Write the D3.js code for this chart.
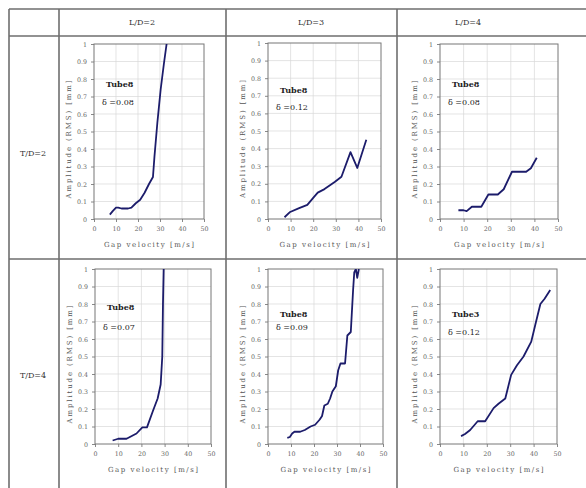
<!DOCTYPE html>
<html>
<head>
<meta charset="utf-8">
<script src="https://cdn.jsdelivr.net/npm/d3@7/dist/d3.min.js"></script>
<style>
  body { margin: 0; background: #fff; }
  svg text { font-family: "DejaVu Serif", "Liberation Serif", serif; }
</style>
</head>
<body>
<script>
// table labels
var colLabels = ["L/D=2", "L/D=3", "L/D=4"];
var rowLabels = ["T/D=2", "T/D=4"];

// axis ticks
var xTicks = [0, 10, 20, 30, 40, 50];
var yTicks = [0, 0.1, 0.2, 0.3, 0.4, 0.5, 0.6, 0.7, 0.8, 0.9, 1];
var xTitle = "Gap velocity [m/s]";
var yTitle = "Amplitude (RMS) [mm]";

// chart annotations (row-major: T/D=2 L/D=2,3,4 then T/D=4 L/D=2,3,4)
var tubeLabels = ["Tube8", "Tube8", "Tube8", "Tube8", "Tube8", "Tube3"];
var deltaLabels = ["\u03b4 =0.08", "\u03b4 =0.12", "\u03b4 =0.08", "\u03b4 =0.07", "\u03b4 =0.09", "\u03b4 =0.12"];

// series: [gap velocity m/s, amplitude mm]
var td2ld2 = [[7.2, 0.025], [8.5, 0.045], [10, 0.065], [11, 0.065], [12.5, 0.06], [15.5, 0.06], [17, 0.065],
              [19, 0.09], [21, 0.11], [23, 0.15], [25, 0.2], [26.8, 0.24], [27.5, 0.36], [28.8, 0.55],
              [30.3, 0.74], [31.8, 0.89], [33, 1.0]];
var td2ld3 = [[7.3, 0.01], [9.8, 0.04], [13.5, 0.06], [17.4, 0.08], [20, 0.12], [22, 0.15], [25, 0.17],
              [29.5, 0.21], [32.5, 0.24], [36.5, 0.38], [39.5, 0.29], [43.5, 0.45]];
var td2ld4 = [[7.8, 0.05], [10, 0.05], [11.3, 0.045], [13.5, 0.07], [17.5, 0.07], [20.5, 0.14],
              [24.5, 0.14], [27, 0.17], [30.5, 0.27], [36.5, 0.27], [38.5, 0.29], [41, 0.35]];
var td4ld2 = [[7.6, 0.02], [10, 0.03], [13.6, 0.03], [17.9, 0.06], [20.4, 0.095], [22.4, 0.095],
              [25, 0.19], [27, 0.26], [28.3, 0.34], [29, 0.5], [29.3, 0.8], [29.6, 1.0]];
var td4ld3 = [[8.4, 0.035], [9.5, 0.04], [10.5, 0.06], [11.5, 0.07], [14, 0.07], [16, 0.08], [18.5, 0.1],
              [20.5, 0.11], [22.5, 0.14], [23.5, 0.16], [24.5, 0.22], [26, 0.23], [27, 0.26], [28, 0.3],
              [29.5, 0.33], [30.5, 0.42], [31.5, 0.46], [33.5, 0.46], [34.5, 0.62], [36, 0.64], [37, 0.88],
              [37.5, 0.98], [38.2, 1.0], [38.8, 0.95], [39.5, 1.0]];
var td4ld4 = [[9, 0.045], [10.7, 0.057], [12.9, 0.08], [16.1, 0.13], [19.3, 0.13], [22.9, 0.205],
              [25, 0.23], [27.9, 0.26], [30.4, 0.395], [32.9, 0.45], [35.7, 0.5], [39, 0.585],
              [40.7, 0.68], [42.9, 0.8], [44.7, 0.83], [47.1, 0.88]];
var allSeries = [td2ld2, td2ld3, td2ld4, td4ld2, td4ld3, td4ld4];

var w = 586;
var h = 488;

var svg = d3.select("body")
        .append("svg")
        .attr("width", w)
        .attr("height", h);

// table grid
var colX = [9, 59, 226, 397, 600];
var rowY = [9, 36, 259, 500];
var gridColor = "#6e6e6e";

rowY.forEach(function (y) {
    svg.append("line")
            .attr("x1", colX[0]).attr("x2", colX[4])
            .attr("y1", y).attr("y2", y)
            .style("stroke", gridColor).style("stroke-width", 1.6);
});
colX.forEach(function (x) {
    svg.append("line")
            .attr("x1", x).attr("x2", x)
            .attr("y1", rowY[0]).attr("y2", rowY[3])
            .style("stroke", gridColor).style("stroke-width", 1.6);
});

var headerX = [142, 311, 468];
svg.selectAll("text.col")
        .data(colLabels)
        .enter()
        .append("text")
        .attr("class", "col")
        .attr("x", function (d, i) { return headerX[i]; })
        .attr("y", 25)
        .attr("text-anchor", "middle")
        .style("font-size", "8px")
        .style("fill", "#333")
        .text(function (d) { return d; });

var rowTextY = [156, 378];
svg.selectAll("text.row")
        .data(rowLabels)
        .enter()
        .append("text")
        .attr("class", "row")
        .attr("x", 33)
        .attr("y", function (d, i) { return rowTextY[i]; })
        .attr("text-anchor", "middle")
        .style("font-size", "8px")
        .style("fill", "#333")
        .text(function (d) { return d; });

// plot frames [left, right, top, bottom]
var frames = [
    [94, 204, 44, 219], [268, 381, 43, 219], [440, 558, 44, 219],
    [95, 211, 269, 444], [268, 383, 269, 444], [440, 557, 269, 444]
];
// annotation offsets from frame top
var noteY = [[43, 61], [50, 67], [43, 61], [41, 61], [48, 61], [48, 66]];

allSeries.forEach(function (data, i) {
    var f = frames[i];
    var x = d3.scaleLinear().domain([0, 50]).range([f[0], f[1]]);
    var y = d3.scaleLinear().domain([0, 1]).range([f[3], f[2]]);
    var g = svg.append("g");

    // gridlines
    g.selectAll("line.hg")
            .data(yTicks.slice(1, -1))
            .enter()
            .append("line")
            .attr("x1", f[0]).attr("x2", f[1])
            .attr("y1", function (d) { return y(d); })
            .attr("y2", function (d) { return y(d); })
            .style("stroke", "#d8d8d8").style("stroke-width", 0.7);
    g.selectAll("line.vg")
            .data(xTicks.slice(1, -1))
            .enter()
            .append("line")
            .attr("y1", f[2]).attr("y2", f[3])
            .attr("x1", function (d) { return x(d); })
            .attr("x2", function (d) { return x(d); })
            .style("stroke", "#d8d8d8").style("stroke-width", 0.7);

    // axes
    var yAxis = d3.axisLeft(y)
            .tickValues(yTicks)
            .tickSize(3)
            .tickPadding(4)
            .tickFormat(function (d) { return d === 0 || d === 1 ? String(d) : d.toFixed(1); });
    var xAxis = d3.axisBottom(x)
            .tickValues(xTicks)
            .tickSize(3);
    var ya = g.append("g").attr("transform", "translate(" + f[0] + ",0)").call(yAxis);
    var xa = g.append("g").attr("transform", "translate(0," + f[3] + ")").call(xAxis);
    [ya, xa].forEach(function (a) {
        a.select(".domain").remove();
        a.selectAll("line").style("stroke", "#888");
        a.selectAll("text")
                .style("font-family", "DejaVu Serif, serif")
                .style("font-size", "6.3px")
                .style("fill", "#666");
    });
    xa.selectAll("text").attr("y", 8);

    g.append("rect")
            .attr("x", f[0]).attr("y", f[2])
            .attr("width", f[1] - f[0]).attr("height", f[3] - f[2])
            .style("fill", "none").style("stroke", "#777").style("stroke-width", 1);

    g.append("text")
            .attr("x", (f[0] + f[1]) / 2)
            .attr("y", f[3] + 28)
            .attr("text-anchor", "middle")
            .attr("textLength", 90)
            .attr("lengthAdjust", "spacing")
            .style("font-size", "7px")
            .style("fill", "#555")
            .text(xTitle);
    g.append("text")
            .attr("transform", "translate(" + (f[0] - 23) + "," + ((f[2] + f[3]) / 2 + 8) + ") rotate(-90)")
            .attr("text-anchor", "middle")
            .attr("textLength", 118)
            .attr("lengthAdjust", "spacing")
            .style("font-size", "7px")
            .style("fill", "#555")
            .text(yTitle);

    // series line, clipped to the plot frame
    var clipId = "clip" + i;
    svg.append("clipPath").attr("id", clipId)
            .append("rect")
            .attr("x", f[0]).attr("y", f[2])
            .attr("width", f[1] - f[0]).attr("height", f[3] - f[2]);
    var line = d3.line()
            .x(function (d) { return x(d[0]); })
            .y(function (d) { return y(d[1]); });
    g.append("path")
            .datum(data)
            .attr("d", line)
            .attr("clip-path", "url(#" + clipId + ")")
            .style("fill", "none")
            .style("stroke", "#1c1c6b")
            .style("stroke-width", 1.8)
            .style("stroke-linejoin", "round");

    g.append("text")
            .attr("x", f[0] + 12)
            .attr("y", f[2] + noteY[i][0])
            .style("font-size", "8px")
            .style("font-weight", "bold")
            .style("fill", "#222")
            .text(tubeLabels[i]);
    g.append("text")
            .attr("x", f[0] + 8)
            .attr("y", f[2] + noteY[i][1])
            .style("font-size", "8px")
            .style("fill", "#222")
            .text(deltaLabels[i]);
});
</script>
</body>
</html>
